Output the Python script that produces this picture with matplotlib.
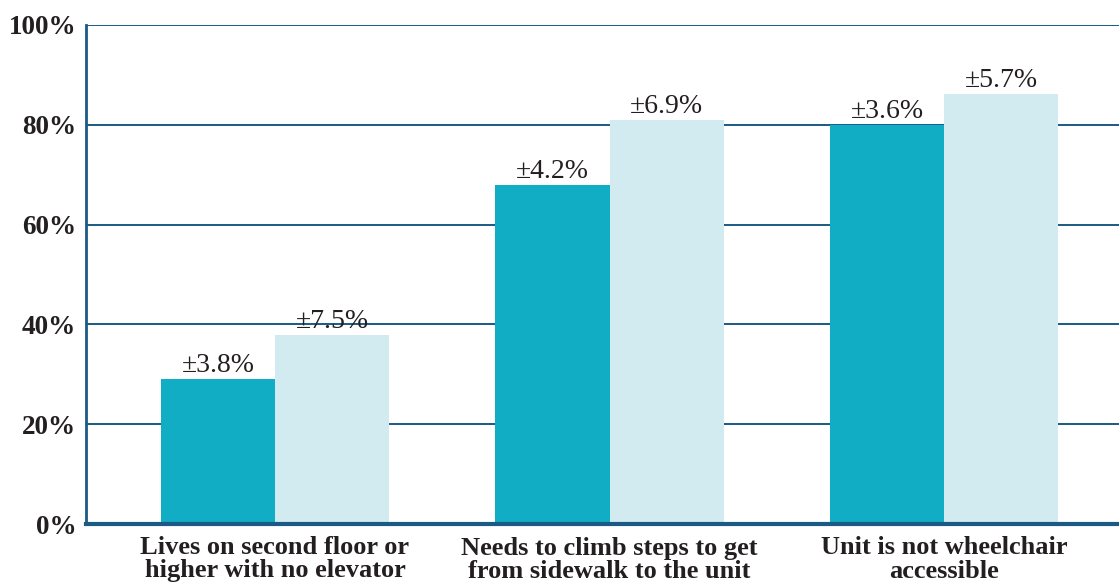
import matplotlib.pyplot as plt
import numpy as np

# datos
categorias = [
    "Lives on second floor or\nhigher with no elevator",
    "Needs to climb steps to get\nfrom sidewalk to the unit",
    "Unit is not wheelchair\naccessible",
]
serie_oscura = [29, 68, 80]
serie_clara = [37.8, 81, 86.2]
error_oscura = ["±3.8%", "±4.2%", "±3.6%"]
error_clara = ["±7.5%", "±6.9%", "±5.7%"]
y_ticks = [0, 20, 40, 60, 80, 100]

color_oscuro = "#10ADC4"
color_claro = "#D2EBF0"
color_linea = "#1B5A84"
color_texto = "#231F20"

plt.rcParams["font.family"] = ["Liberation Serif", "DejaVu Serif"]

fig = plt.figure(figsize=(11.19, 5.84), dpi=100)
ax = fig.add_axes([86 / 1119, 60 / 584, 1 - 86 / 1119, 499 / 584])

x = np.arange(len(categorias))
ancho = 0.341

b1 = ax.bar(x - ancho / 2, serie_oscura, ancho, color=color_oscuro, zorder=2)
b2 = ax.bar(x + ancho / 2, serie_clara, ancho, color=color_claro, zorder=2)

for rect, txt in zip(list(b1) + list(b2), error_oscura + error_clara):
    ax.text(rect.get_x() + rect.get_width() / 2, rect.get_height() + 0.2, txt,
            ha="center", va="bottom", fontsize=20, color=color_texto)

ax.set_xlim(-0.565, 2.523)
ax.set_ylim(0, 100)
ax.set_yticks(y_ticks)
ax.set_yticklabels([f"{v}%" for v in y_ticks], fontsize=19.5, fontweight="bold",
                   color=color_texto)
ax.tick_params(axis="y", length=0, pad=7)
ax.tick_params(axis="x", length=0, pad=9)
ax.set_xticks(x)
ax.set_xticklabels(categorias, fontsize=19, fontweight="bold", color=color_texto,
                   linespacing=1.0, va="top")

for v in y_ticks[1:]:
    ax.axhline(v, color=color_linea, linewidth=1.4, zorder=1)

for s in ["top", "right"]:
    ax.spines[s].set_visible(False)
ax.spines["left"].set_color(color_linea)
ax.spines["left"].set_linewidth(2)
ax.spines["bottom"].set_color(color_linea)
ax.spines["bottom"].set_linewidth(3)
ax.spines["bottom"].set_zorder(3)

fig.savefig("out.png", dpi=100)
